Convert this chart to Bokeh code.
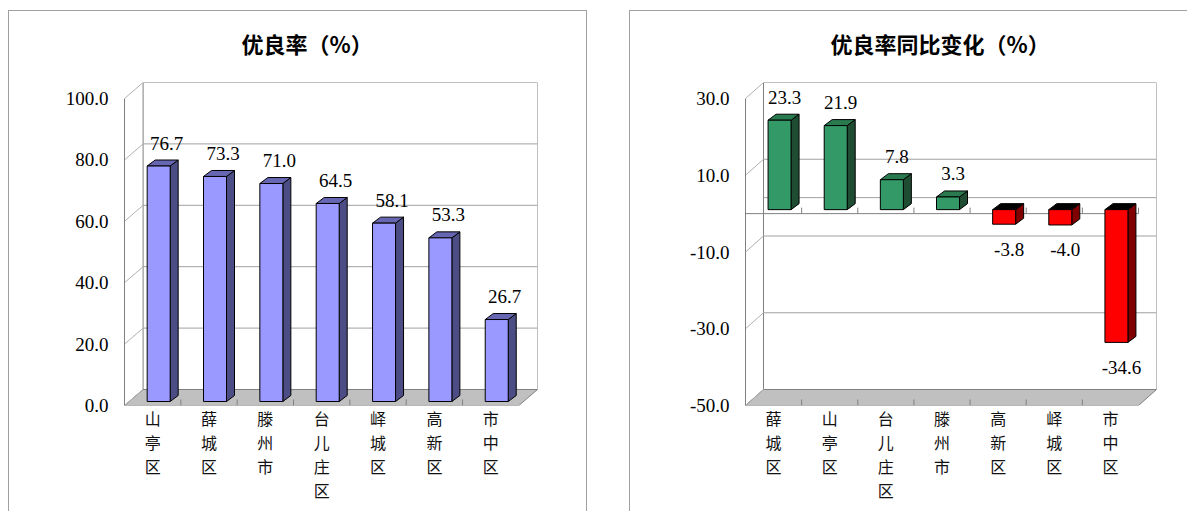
from bokeh.plotting import figure
from bokeh.models import Range1d, LinearAxis, FixedTicker, PrintfTickFormatter, Spacer, Title
from bokeh.layouts import row, column
from bokeh.embed import file_html
from bokeh.resources import INLINE
from bokeh.core.properties import value

# ---------------- data ----------------
left_title = "优良率（%）"
left_cats = ["山亭区", "薛城区", "滕州市", "台儿庄区", "峄城区", "高新区", "市中区"]
left_vals = [76.7, 73.3, 71.0, 64.5, 58.1, 53.3, 26.7]
left_ticks = [0, 20, 40, 60, 80, 100]
left_grid = [20, 40, 60, 80]

right_title = "优良率同比变化（%）"
right_cats = ["薛城区", "山亭区", "台儿庄区", "滕州市", "高新区", "峄城区", "市中区"]
right_vals = [23.3, 21.9, 7.8, 3.3, -3.8, -4.0, -34.6]
right_ticks = [-50, -30, -10, 10, 30]
right_grid = [-30, -10, 0, 10]

NUM_FONT = "Liberation Serif"
CJK_FONT = "Noto Sans CJK SC"


def build(title, cats, vals, ticks, grid, ymin, ymax, fig_w, left_b, right_b,
          wall_dx, title_offset, label_dx, pos_col, neg_col, border_css):
    FRAME_H, TOP, BOTTOM, FIG_H = 323, 71, 107, 501
    WALL_DY = 16
    FACE_DX, FACE_DY = 6, 4
    BAR_W, BAR_DX, BAR_DY = 23, 8, 6
    n = len(cats)
    frame_w = fig_w - left_b - right_b
    ppx = (frame_w - wall_dx) / n
    ppy = (FRAME_H - WALL_DY) / (ymax - ymin)
    wx, wy = wall_dx / ppx, WALL_DY / ppy
    x_front0, x_front1 = -0.5, n - 0.5

    p = figure(width=fig_w, height=FIG_H,
               x_range=Range1d(x_front0, x_front1 + wx),
               y_range=Range1d(ymin, ymax + wy),
               output_backend="svg", toolbar_location=None,
               x_axis_type=None, y_axis_type=None,
               min_border_left=left_b, min_border_right=right_b,
               min_border_top=TOP, min_border_bottom=BOTTOM)
    p.outline_line_color = None
    p.background_fill_color = "white"
    p.border_fill_color = "white"
    p.styles = border_css

    # spacer panel between frame and title (keeps the title higher up)
    p.add_layout(Title(text=" ", text_font=CJK_FONT, text_font_size="12px",
                       standoff=4), "above")
    p.title = Title(text=title, align="left", offset=title_offset,
                    vertical_align="middle",
                    text_font=CJK_FONT, text_font_size="22px",
                    text_font_style="bold", text_color="black", standoff=0)

    # floor
    p.patch([x_front0, x_front1, x_front1 + wx, x_front0 + wx],
            [ymin, ymin, ymin + wy, ymin + wy],
            fill_color="#C0C0C0", line_color="#808080", line_width=1)
    # back wall
    p.patch([x_front0 + wx, x_front1 + wx, x_front1 + wx, x_front0 + wx],
            [ymin + wy, ymin + wy, ymax + wy, ymax + wy],
            fill_color="white", line_color="#808080", line_width=1)
    # gridlines on back wall
    p.segment(x0=[x_front0 + wx] * len(grid), x1=[x_front1 + wx] * len(grid),
              y0=[g + wy for g in grid], y1=[g + wy for g in grid],
              line_color="#A0A0A0", line_width=1)
    # side wall diagonals
    p.segment(x0=[x_front0] * len(ticks), x1=[x_front0 + wx] * len(ticks),
              y0=ticks, y1=[t + wy for t in ticks],
              line_color="#B0B0B0", line_width=1)
    # floor front category ticks
    tick_h = 6 / ppy
    bx = [i + 0.5 for i in range(n - 1)]
    p.segment(x0=bx, x1=bx, y0=[ymin] * len(bx), y1=[ymin + tick_h] * len(bx),
              line_color="#808080", line_width=1)
    # zero line when values go negative
    if ymin < 0:
        p.segment(x0=[x_front0], x1=[x_front1], y0=[0], y1=[0],
                  line_color="#808080", line_width=1)
        bx2 = [i + 0.5 for i in range(n)]
        p.segment(x0=bx2, x1=bx2, y0=[0] * n, y1=[tick_h] * n,
                  line_color="#808080", line_width=1)

    # bars
    fxs, fys, fcol = [], [], []
    txs, tys, tcol = [], [], []
    sxs, sys_, scol = [], [], []
    lx, ly, ltxt, loff = [], [], [], []
    ox, oy = FACE_DX / ppx, FACE_DY / ppy
    hw = BAR_W / ppx / 2
    bdx, bdy = BAR_DX / ppx, BAR_DY / ppy
    for i, v in enumerate(vals):
        cx = i + ox
        x0, x1 = cx - hw, cx + hw
        base, top = 0 + oy, v + oy
        lo, hi = min(base, top), max(base, top)
        cols = pos_col if v >= 0 else neg_col
        fxs.append([x0, x1, x1, x0]); fys.append([lo, lo, hi, hi]); fcol.append(cols[0])
        txs.append([x0, x1, x1 + bdx, x0 + bdx]); tys.append([hi, hi, hi + bdy, hi + bdy]); tcol.append(cols[1])
        sxs.append([x1, x1 + bdx, x1 + bdx, x1]); sys_.append([lo, lo + bdy, hi + bdy, hi]); scol.append(cols[2])
        lx.append(cx)
        if v >= 0:
            ly.append(hi + bdy); loff.append(-17)
        else:
            ly.append(lo); loff.append(25)
        ltxt.append(f"{v:.1f}")
    p.patches(sxs, sys_, fill_color=scol, line_color="black", line_width=1)
    p.patches(txs, tys, fill_color=tcol, line_color="black", line_width=1)
    p.patches(fxs, fys, fill_color=fcol, line_color="black", line_width=1)
    p.text(x=lx, y=ly, text=ltxt, x_offset=label_dx, y_offset=loff,
           text_align="center", text_baseline="middle",
           text_font=value(NUM_FONT), text_font_size="19px", text_color="black")

    # value axis
    yax = LinearAxis(ticker=FixedTicker(ticks=ticks),
                     formatter=PrintfTickFormatter(format="%.1f"),
                     bounds=(ymin, ymax))
    yax.axis_line_color = "#808080"
    yax.major_tick_line_color = None
    yax.minor_tick_line_color = None
    yax.major_label_standoff = 10
    yax.major_label_text_font = NUM_FONT
    yax.major_label_text_font_size = "19px"
    yax.major_label_text_color = "black"
    p.add_layout(yax, "left")

    # category axis (vertical stacked characters)
    xax = LinearAxis(ticker=FixedTicker(ticks=list(range(n))),
                     major_label_overrides={i: "\n".join(c) for i, c in enumerate(cats)})
    xax.axis_line_color = None
    xax.major_tick_line_color = None
    xax.minor_tick_line_color = None
    xax.major_label_standoff = -6
    xax.major_label_text_font = CJK_FONT
    xax.major_label_text_font_size = "16px"
    xax.major_label_text_line_height = 1.0
    xax.major_label_text_color = "#111111"
    p.add_layout(xax, "below")
    return p


p1 = build(left_title, left_cats, left_vals, left_ticks, left_grid, 0, 100,
           fig_w=579, left_b=115, right_b=51, wall_dx=18.6, title_offset=117,
           label_dx=8,
           pos_col=("#9999FF", "#6666B3", "#4D4D85"),
           neg_col=("#9999FF", "#6666B3", "#4D4D85"),
           border_css={"border-left": "1px solid #A0A0A0",
                       "border-top": "1px solid #A0A0A0",
                       "border-right": "1px solid #A0A0A0"})

p2 = build(right_title, right_cats, right_vals, right_ticks, right_grid, -50, 30,
           fig_w=558, left_b=115, right_b=32, wall_dx=18, title_offset=85,
           label_dx=5,
           pos_col=("#339966", "#2A7A50", "#1F4D33"),
           neg_col=("#FF0000", "#000000", "#800000"),
           border_css={"border-left": "1px solid #A0A0A0",
                       "border-top": "1px solid #A0A0A0"})

layout = column(Spacer(height=10),
                row(Spacer(width=8), p1, Spacer(width=42), p2))
open("out.html", "w").write(file_html(layout, INLINE))
